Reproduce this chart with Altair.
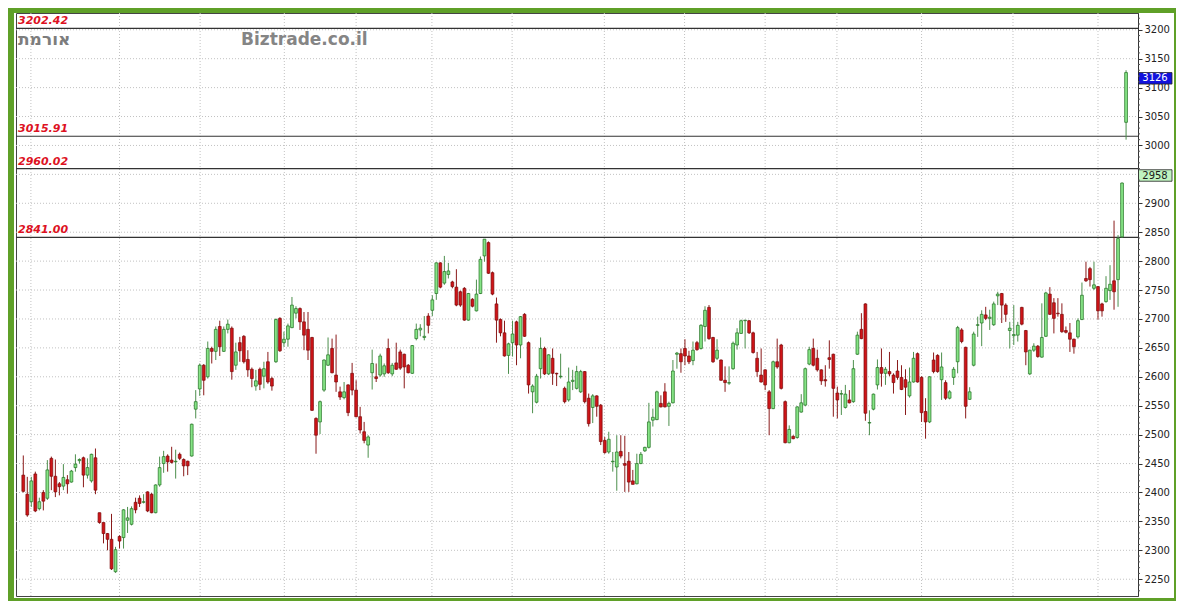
import altair as alt
import pandas as pd

# ---------------- data ----------------
opens = [
    2430, 2397, 2384, 2432, 2372, 2400, 2390, 2459, 2428, 2415,
    2411, 2422, 2418, 2443, 2455, 2460, 2430, 2420, 2460, 2365,
    2348, 2329, 2319, 2263, 2324, 2322, 2352, 2345, 2383, 2390,
    2383, 2401, 2397, 2365, 2413, 2450, 2463, 2456, 2453, 2466,
    2457, 2454, 2463, 2544, 2579, 2620, 2600, 2649, 2644, 2687,
    2644, 2682, 2684, 2620, 2659, 2670, 2630, 2613, 2584, 2613,
    2601, 2626, 2597, 2626, 2701, 2659, 2665, 2685, 2710, 2718,
    2695, 2682, 2668, 2528, 2522, 2577, 2620, 2649, 2603, 2574,
    2564, 2586, 2606, 2577, 2531, 2505, 2482, 2607, 2600, 2603,
    2605, 2649, 2605, 2624, 2643, 2639, 2620, 2606, 2666, 2681,
    2668, 2705, 2715, 2744, 2797, 2762, 2777, 2764, 2755, 2747,
    2753, 2698, 2734, 2714, 2744, 2809, 2832, 2780, 2726, 2699,
    2676, 2637, 2659, 2695, 2655, 2708, 2659, 2574, 2556, 2614,
    2649, 2605, 2632, 2606, 2600, 2580, 2560, 2592, 2580, 2574,
    2609, 2563, 2547, 2567, 2551, 2490, 2470, 2453, 2444, 2471,
    2450, 2454, 2420, 2415, 2450, 2472, 2478, 2525, 2526, 2554,
    2574, 2549, 2555, 2639, 2640, 2649, 2636, 2628, 2659, 2649,
    2687, 2720, 2668, 2632, 2629, 2594, 2589, 2614, 2655, 2675,
    2697, 2697, 2676, 2632, 2603, 2612, 2574, 2545, 2626, 2655,
    2557, 2486, 2497, 2495, 2539, 2551, 2622, 2649, 2632, 2612,
    2595, 2633, 2639, 2572, 2570, 2547, 2560, 2557, 2639, 2682,
    2726, 2520, 2544, 2586, 2616, 2606, 2609, 2603, 2610, 2599,
    2595, 2567, 2591, 2640, 2599, 2540, 2522, 2629, 2637, 2595,
    2590, 2563, 2599, 2626, 2681, 2651, 2561, 2620, 2689, 2693,
    2707, 2701, 2690, 2740, 2744, 2724, 2680, 2671, 2672, 2720,
    2680, 2605, 2646, 2653, 2634, 2670, 2743, 2728, 2710, 2708,
    2680, 2676, 2665, 2669, 2699, 2770, 2787, 2753, 2756, 2726,
    2730, 2749, 2766, 2768, 2842, 3040,
]
highs = [
    2464, 2427, 2427, 2436, 2391, 2404, 2456, 2462, 2457, 2418,
    2449, 2430, 2439, 2466, 2459, 2462, 2459, 2467, 2476, 2365,
    2348, 2330, 2363, 2306, 2326, 2371, 2375, 2376, 2391, 2395,
    2397, 2402, 2399, 2414, 2462, 2472, 2466, 2479, 2474, 2469,
    2459, 2455, 2519, 2577, 2623, 2622, 2661, 2652, 2687, 2697,
    2687, 2699, 2687, 2659, 2669, 2672, 2646, 2616, 2612, 2616,
    2626, 2643, 2600, 2701, 2703, 2678, 2692, 2738, 2722, 2720,
    2712, 2712, 2669, 2530, 2559, 2630, 2668, 2666, 2673, 2583,
    2591, 2587, 2624, 2594, 2548, 2522, 2499, 2647, 2623, 2640,
    2623, 2666, 2624, 2659, 2647, 2640, 2622, 2655, 2692, 2691,
    2705, 2710, 2741, 2798, 2798, 2809, 2797, 2766, 2786, 2749,
    2755, 2745, 2736, 2768, 2808, 2838, 2834, 2782, 2737, 2701,
    2697, 2659, 2697, 2697, 2705, 2710, 2661, 2587, 2605, 2668,
    2652, 2639, 2649, 2607, 2640, 2583, 2616, 2612, 2619, 2612,
    2610, 2571, 2570, 2568, 2553, 2496, 2505, 2470, 2499, 2499,
    2498, 2470, 2439, 2467, 2470, 2479, 2555, 2545, 2576, 2568,
    2589, 2557, 2629, 2643, 2649, 2665, 2645, 2661, 2662, 2691,
    2722, 2724, 2669, 2665, 2630, 2618, 2618, 2661, 2684, 2699,
    2698, 2698, 2678, 2643, 2649, 2613, 2577, 2628, 2666, 2657,
    2559, 2516, 2499, 2549, 2570, 2616, 2652, 2666, 2647, 2613,
    2620, 2663, 2640, 2583, 2577, 2586, 2577, 2629, 2678, 2710,
    2727, 2542, 2571, 2630, 2649, 2617, 2643, 2606, 2629, 2620,
    2613, 2616, 2643, 2642, 2601, 2563, 2601, 2642, 2639, 2642,
    2594, 2577, 2617, 2688, 2684, 2652, 2582, 2678, 2704, 2715,
    2721, 2716, 2730, 2747, 2745, 2727, 2695, 2724, 2695, 2721,
    2681, 2647, 2658, 2655, 2727, 2747, 2755, 2736, 2736, 2727,
    2687, 2693, 2666, 2701, 2763, 2799, 2790, 2799, 2757, 2728,
    2774, 2793, 2870, 2845, 2936, 3130,
]
lows = [
    2400, 2358, 2375, 2366, 2369, 2369, 2387, 2404, 2392, 2395,
    2404, 2398, 2417, 2436, 2450, 2409, 2424, 2417, 2397, 2346,
    2312, 2300, 2266, 2261, 2303, 2303, 2330, 2343, 2364, 2375,
    2381, 2366, 2364, 2364, 2410, 2434, 2436, 2450, 2424, 2456,
    2428, 2430, 2462, 2528, 2567, 2568, 2597, 2623, 2629, 2636,
    2643, 2675, 2595, 2612, 2626, 2623, 2600, 2582, 2576, 2577,
    2580, 2588, 2576, 2624, 2643, 2652, 2652, 2684, 2701, 2681,
    2646, 2629, 2541, 2467, 2501, 2574, 2619, 2606, 2574, 2560,
    2561, 2532, 2568, 2530, 2502, 2485, 2460, 2578, 2591, 2600,
    2600, 2605, 2601, 2612, 2612, 2580, 2606, 2605, 2663, 2670,
    2663, 2675, 2705, 2733, 2753, 2759, 2770, 2753, 2722, 2721,
    2697, 2697, 2720, 2713, 2743, 2799, 2778, 2741, 2659, 2670,
    2635, 2605, 2635, 2620, 2632, 2669, 2571, 2537, 2554, 2597,
    2603, 2603, 2586, 2584, 2597, 2554, 2557, 2577, 2578, 2572,
    2554, 2514, 2520, 2531, 2482, 2467, 2467, 2436, 2403, 2459,
    2401, 2401, 2414, 2414, 2449, 2470, 2476, 2514, 2525, 2547,
    2547, 2515, 2554, 2614, 2607, 2620, 2622, 2620, 2645, 2647,
    2661, 2664, 2624, 2629, 2593, 2574, 2586, 2612, 2647, 2674,
    2649, 2674, 2640, 2600, 2590, 2577, 2499, 2544, 2614, 2578,
    2485, 2485, 2492, 2493, 2538, 2549, 2620, 2618, 2609, 2586,
    2583, 2614, 2531, 2528, 2534, 2545, 2554, 2555, 2638, 2665,
    2524, 2499, 2542, 2578, 2583, 2586, 2601, 2571, 2595, 2577,
    2534, 2564, 2590, 2590, 2522, 2493, 2520, 2606, 2607, 2560,
    2560, 2561, 2586, 2606, 2658, 2528, 2560, 2618, 2669, 2653,
    2698, 2681, 2688, 2724, 2693, 2695, 2649, 2655, 2661, 2689,
    2620, 2603, 2643, 2633, 2633, 2669, 2707, 2675, 2704, 2676,
    2675, 2643, 2640, 2666, 2698, 2764, 2756, 2750, 2699, 2704,
    2728, 2733, 2716, 2721, 2840, 3010,
]
closes = [
    2402, 2361, 2420, 2368, 2384, 2385, 2439, 2428, 2401, 2410,
    2426, 2415, 2437, 2449, 2457, 2430, 2443, 2466, 2404, 2348,
    2329, 2319, 2268, 2301, 2316, 2370, 2356, 2372, 2370, 2381,
    2384, 2368, 2365, 2413, 2443, 2462, 2453, 2452, 2454, 2459,
    2446, 2446, 2518, 2557, 2620, 2594, 2649, 2644, 2682, 2652,
    2682, 2691, 2609, 2643, 2645, 2626, 2612, 2597, 2593, 2587,
    2614, 2591, 2584, 2699, 2645, 2665, 2688, 2724, 2718, 2695,
    2672, 2646, 2542, 2499, 2557, 2629, 2638, 2607, 2591, 2565,
    2574, 2538, 2577, 2531, 2508, 2490, 2496, 2623, 2597, 2636,
    2619, 2607, 2620, 2613, 2615, 2617, 2607, 2654, 2682, 2684,
    2670, 2689, 2733, 2797, 2755, 2782, 2783, 2756, 2724, 2724,
    2698, 2744, 2722, 2743, 2803, 2838, 2779, 2743, 2698, 2676,
    2636, 2657, 2674, 2655, 2704, 2670, 2586, 2584, 2601, 2649,
    2605, 2638, 2606, 2605, 2601, 2557, 2591, 2594, 2609, 2609,
    2557, 2519, 2567, 2549, 2488, 2469, 2492, 2454, 2470, 2463,
    2447, 2418, 2414, 2450, 2466, 2478, 2522, 2530, 2574, 2548,
    2548, 2554, 2610, 2641, 2626, 2636, 2626, 2646, 2647, 2689,
    2715, 2666, 2626, 2646, 2594, 2590, 2590, 2658, 2676, 2697,
    2698, 2676, 2642, 2609, 2591, 2586, 2545, 2626, 2617, 2580,
    2486, 2509, 2493, 2548, 2555, 2614, 2647, 2620, 2612, 2593,
    2593, 2630, 2580, 2560, 2571, 2570, 2555, 2614, 2672, 2666,
    2537, 2521, 2570, 2616, 2606, 2613, 2605, 2590, 2599, 2578,
    2582, 2591, 2632, 2591, 2538, 2522, 2600, 2609, 2609, 2617,
    2563, 2574, 2613, 2685, 2661, 2549, 2574, 2674, 2690, 2708,
    2701, 2703, 2726, 2743, 2724, 2708, 2684, 2673, 2689, 2691,
    2643, 2646, 2653, 2635, 2668, 2745, 2708, 2701, 2709, 2678,
    2677, 2665, 2652, 2697, 2741, 2766, 2768, 2759, 2714, 2714,
    2753, 2760, 2747, 2839, 2935, 3126,
]

# support / resistance lines
levels = [3202.42, 3015.91, 2960.02, 2841.00]
level_labels = ["3202.42", "3015.91", "2960.02", "2841.00"]

# vertical grid positions (period boundaries, in candle index units)
period_marks = [1.9, 24.0, 44.1, 65.1, 83.0, 101.9, 121.9, 144.9, 164.9,
                185.0, 202.9, 224.0, 246.8, 268.0]

# price axis
y_ticks = list(range(2250, 3201, 50))
minor_ticks = [v for v in range(2230, 3230, 10) if v % 50 != 0]

# price tags on the axis (the 2958 tag covers the 2950 label)
tag_values = [3126, 2958]
tag_labels = ["3126", "2958"]
hidden_tick_label = 2950

assert len(opens) == len(highs) == len(lows) == len(closes)
n = len(opens)

# ---------------- layout / style ----------------
W, H = 1122, 583
Y_DOM = [2221, 3229]
X_DOM = [-0.57, 276.73]
UNITS_PER_PX = (Y_DOM[1] - Y_DOM[0]) / H

GREEN_FRAME = "#5fa028"
UP_FILL, UP_STROKE, UP_WICK = "#86e486", "#1f6f1f", "#4d8f4d"
DN_FILL, DN_STROKE, DN_WICK = "#cf1418", "#7a0a0a", "#8a1a1a"

xs = alt.Scale(domain=X_DOM, nice=False, zero=False)
ys = alt.Scale(domain=Y_DOM, nice=False, zero=False)
yax = alt.Axis(orient="right", values=y_ticks, format="d",
               labelExpr=f"datum.value == {hidden_tick_label} ? '' : datum.label",
               labelFont="DejaVu Sans",
               labelFontSize=10, labelColor="#222222", tickSize=4,
               tickColor="#333333", domainColor="#333333", labelPadding=2,
               grid=False, title=None)

df = pd.DataFrame({"i": list(range(n)), "o": opens, "h": highs,
                   "l": lows, "c": closes})
df["dir"] = ["up" if c >= o else "down" for o, c in zip(opens, closes)]

dir_dom = ["up", "down"]

one = pd.DataFrame({"a": [0]})

# horizontal dotted grid
hgrid = alt.Chart(pd.DataFrame({"v": y_ticks})).mark_rule(
    color="#c2c2c2", strokeDash=[1, 2], strokeWidth=1
).encode(y=alt.Y("v:Q", scale=ys, axis=yax), x=alt.value(0), x2=alt.value(W))

# vertical dotted grid
vgrid = alt.Chart(pd.DataFrame({"m": period_marks})).mark_rule(
    color="#c2c2c2", strokeDash=[1, 2], strokeWidth=1
).encode(x=alt.X("m:Q", scale=xs, axis=None), y=alt.value(0), y2=alt.value(H))

lv = pd.DataFrame({"v": levels, "lab": level_labels})
level_lines = alt.Chart(lv).mark_rule(color="#333333", strokeWidth=1.2).encode(
    y=alt.Y("v:Q", scale=ys, axis=yax), x=alt.value(0), x2=alt.value(W)
)
level_text = alt.Chart(lv).mark_text(
    align="left", baseline="alphabetic", dx=2, dy=-4, font="DejaVu Sans",
    fontSize=11, fontStyle="italic", fontWeight="bold", color="#dd1122"
).encode(y=alt.Y("v:Q", scale=ys, axis=yax), x=alt.value(0), text="lab:N")

wicks = alt.Chart(df).mark_rule(strokeWidth=1).encode(
    x=alt.X("i:Q", scale=xs, axis=None),
    y=alt.Y("l:Q", scale=ys, axis=yax),
    y2="h:Q",
    color=alt.Color("dir:N", scale=alt.Scale(domain=dir_dom, range=[UP_WICK, DN_WICK]), legend=None),
)
bodies = alt.Chart(df).mark_bar(size=2.8, strokeWidth=0.7).encode(
    x=alt.X("i:Q", scale=xs, axis=None),
    y=alt.Y("o:Q", scale=ys, axis=yax),
    y2="c:Q",
    fill=alt.Fill("dir:N", scale=alt.Scale(domain=dir_dom, range=[UP_FILL, DN_FILL]), legend=None),
    stroke=alt.Stroke("dir:N", scale=alt.Scale(domain=dir_dom, range=[UP_STROKE, DN_STROKE]), legend=None),
)

wm_heb = alt.Chart(one).mark_text(
    text="אורמת", align="left", baseline="middle", font="DejaVu Sans",
    fontSize=17, fontWeight="bold", color="#7d7d7d"
).encode(x=alt.value(2), y=alt.value(27))
wm_site = alt.Chart(one).mark_text(
    text="Biztrade.co.il", align="left", baseline="middle", font="DejaVu Sans",
    fontSize=17, fontWeight="bold", color="#858585"
).encode(x=alt.value(225), y=alt.value(27))

# price tags on the right axis
tg = pd.DataFrame({
    "top": tag_values,
    "lab": tag_labels,
    "fillc": ["#1212dd", "#bff3bf"],
    "tc": ["#ffffff", "#1a1a1a"],
})
tg["bot"] = tg["top"] - 11.5 * UNITS_PER_PX
tg["mid"] = tg["top"] - 5.9 * UNITS_PER_PX
tag_box = alt.Chart(tg).mark_rect(clip=False, stroke="#222222", strokeWidth=0.8).encode(
    y=alt.Y("top:Q", scale=ys, axis=yax), y2="bot:Q",
    x=alt.value(W + 0.5), x2=alt.value(W + 34),
    fill=alt.Fill("fillc:N", scale=None),
)
tag_txt = alt.Chart(tg).mark_text(
    clip=False, align="center", baseline="middle", font="DejaVu Sans", fontSize=10
).encode(
    y=alt.Y("mid:Q", scale=ys, axis=yax), x=alt.value(W + 17),
    text="lab:N", color=alt.Color("tc:N", scale=None),
)

minor = alt.Chart(pd.DataFrame({"v": minor_ticks})).mark_rule(
    clip=False, color="#555555", strokeWidth=1
).encode(y=alt.Y("v:Q", scale=ys, axis=yax), x=alt.value(W), x2=alt.value(W + 2))

# green frame strips around the white chart area
def strip(x0, x1, y0, y1):
    return alt.Chart(one).mark_rect(clip=False, fill=GREEN_FRAME).encode(
        x=alt.value(x0), x2=alt.value(x1), y=alt.value(y0), y2=alt.value(y1)
    )

frame = (strip(-10, -2, -8, H + 12) + strip(-10, W + 50, -8, 0)
         + strip(-10, W + 50, H + 2, H + 12) + strip(W + 36, W + 50, -8, H + 12))

chart = alt.layer(
    hgrid, vgrid, level_lines, wicks, bodies, level_text, wm_heb, wm_site,
    tag_box, tag_txt, minor, frame
).properties(
    width=W, height=H,
    autosize=alt.AutoSizeParams(type="none"),
    padding={"left": 8, "top": 5, "right": 38, "bottom": 5},
    background="white",
).configure_view(stroke="#444444", strokeWidth=1)

chart.save("out.html", embed_options={"renderer": "svg", "actions": False})
